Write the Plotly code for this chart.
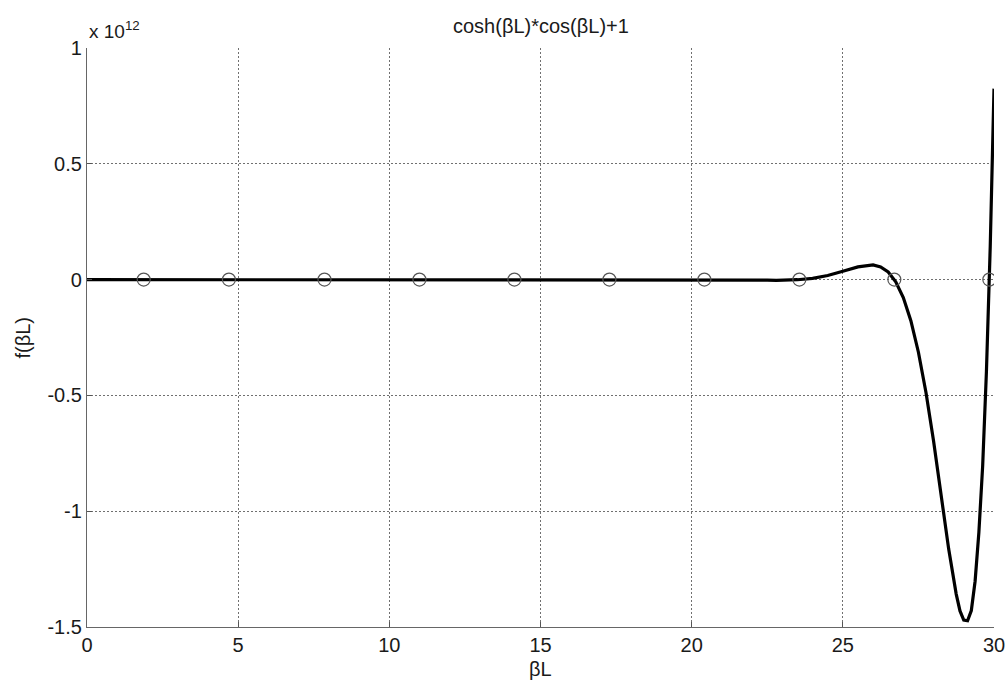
import plotly.graph_objects as go

# f(βL) = cosh(βL)*cos(βL)+1, in units of 1e12
beta_l = [0, 2, 4, 6, 8, 10, 12, 14, 16, 18, 20, 21, 22, 22.5, 22.8, 23, 23.5,
          24, 24.5, 25, 25.5, 26, 26.25, 26.5, 26.75, 27, 27.25, 27.5, 27.75,
          28, 28.25, 28.5, 28.75, 28.875, 29, 29.125, 29.25, 29.375, 29.5,
          29.625, 29.75, 29.875, 30]
f_val = [0, 0, 0, 0, 0, 0, 0, 0, 0, 0, 0, -0.0004, -0.0018, -0.0026, -0.0035, -0.0026, -0.0005,
         0.0056, 0.0178, 0.0357, 0.0547, 0.0633, 0.0550, 0.0326, -0.0096, -0.0777, -0.1775,
         -0.3135, -0.4871, -0.6960, -0.9282, -1.1627, -1.3580, -1.4307, -1.4702, -1.4730,
         -1.4290, -1.3024, -1.0919, -0.8048, -0.3957, 0.1405, 0.8245]

# roots of cosh(βL)*cos(βL)+1 = 0
roots = [1.875, 4.694, 7.855, 10.996, 14.137, 17.279, 20.420, 23.562, 26.704, 29.845]
root_f = [0, 0, 0, 0, 0, 0, 0, 0, 0, 0]

x_ticks = [0, 5, 10, 15, 20, 25, 30]
y_ticks = [-1.5, -1, -0.5, 0, 0.5, 1]
y_tick_text = ["-1.5", "-1", "-0.5", "0", "0.5", "1"]

FONT = "Liberation Sans, Arial, sans-serif"
TXT = "#1a1a1a"
PLOT_H = 684 - 48 - 57
PLOT_W = 1007 - 87 - 13

fig = go.Figure()
fig.add_trace(go.Scatter(
    x=beta_l, y=f_val, mode="lines",
    line=dict(color="black", width=3.2),
    hoverinfo="skip", showlegend=False,
))
fig.add_trace(go.Scatter(
    x=roots, y=root_f, mode="markers",
    marker=dict(symbol="circle-open", size=13, color="#555555", line=dict(width=1.2)),
    showlegend=False,
))

axis_common = dict(
    ticks="inside", ticklen=5, tickcolor="#555555",
    showline=True, linecolor="#666666", linewidth=1.3,
    showgrid=True, gridcolor="#707070", griddash="2px,2px", gridwidth=1,
    zeroline=False, mirror=False, automargin=False,
    tickfont=dict(size=20, family=FONT, color=TXT),
)

fig.update_layout(
    width=1007, height=684,
    margin=dict(l=87, r=13, t=48, b=57),
    paper_bgcolor="white", plot_bgcolor="white",
    font=dict(family=FONT, size=20, color=TXT),
    xaxis=dict(range=[0, 30], tickvals=x_ticks, **axis_common),
    yaxis=dict(range=[-1.5, 1], tickvals=y_ticks, ticktext=y_tick_text, **axis_common),
    annotations=[
        dict(text="cosh(βL)*cos(βL)+1", xref="paper", yref="paper",
             x=0.5, y=1 + 22 / PLOT_H, xanchor="center", yanchor="middle",
             showarrow=False, font=dict(size=20, family=FONT, color=TXT)),
        dict(text="x 10<sup>12</sup>", xref="paper", yref="paper",
             x=0.0, y=1.0, xanchor="left", yanchor="bottom", yshift=4,
             showarrow=False, font=dict(size=19, family=FONT, color=TXT)),
        dict(text="βL", xref="paper", yref="paper",
             x=0.5, y=-42 / PLOT_H, xanchor="center", yanchor="middle",
             showarrow=False, font=dict(size=20, family=FONT, color=TXT)),
        dict(text="f(βL)", xref="paper", yref="paper", textangle=-90,
             x=-65 / PLOT_W, y=0.5, xanchor="center", yanchor="middle",
             showarrow=False, font=dict(size=20, family=FONT, color=TXT)),
    ],
)

fig.write_html("out.html")
